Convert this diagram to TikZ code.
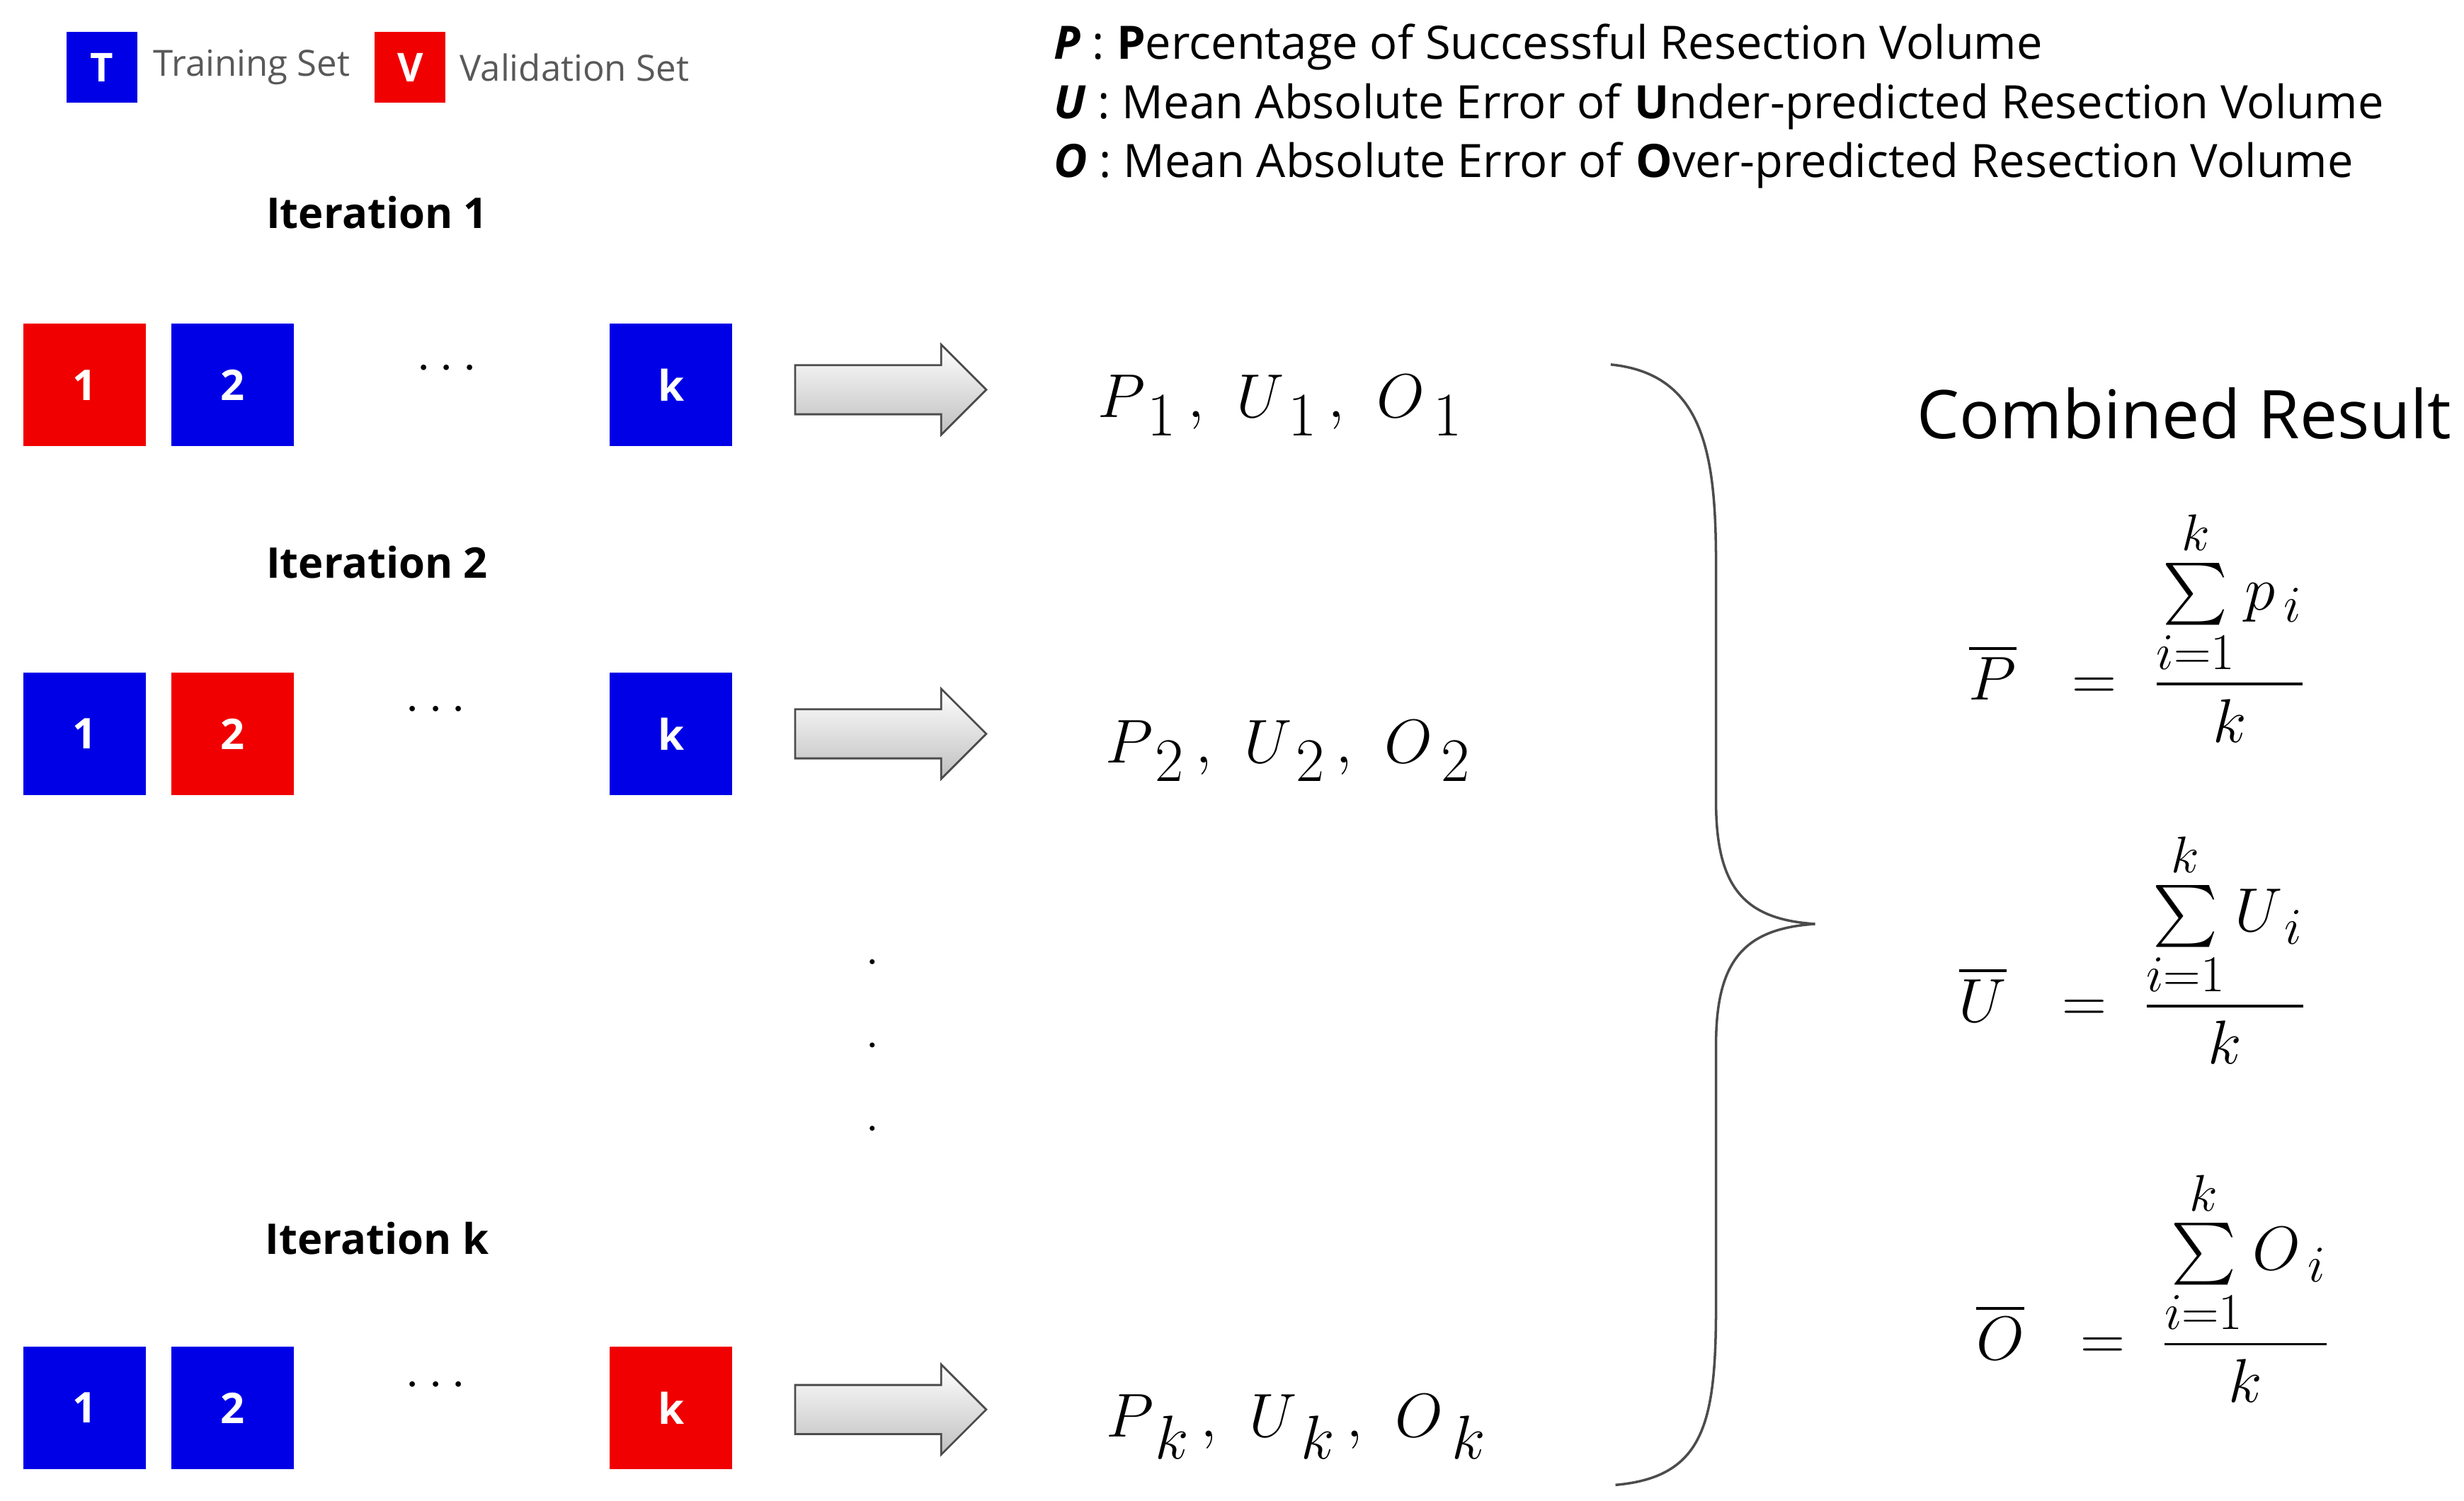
\documentclass[tikz,border=0pt]{standalone}
\usepackage{fontspec}
\setmainfont{Open Sans}
\usepackage{amsmath}
\usetikzlibrary{shapes.arrows}
\begin{document}
\begin{tikzpicture}[x=0.0222cm,y=-0.0222cm,
  sq/.style={minimum size=1.73cm,inner sep=0,font=\fontsize{17}{17}\selectfont\bfseries,text=white},
  tr/.style={sq,fill={rgb,255:red,0;green,0;blue,230}},
  va/.style={sq,fill={rgb,255:red,240;green,0;blue,0}},
  lg/.style={minimum size=1.0cm,inner sep=0,font=\fontsize{16}{16}\selectfont\bfseries,text=white},
  it/.style={font=\fontsize{17}{17}\selectfont\bfseries},
  arr/.style={single arrow,draw=black!70,line width=0.8pt,inner sep=0.333cm,single arrow head extend=0.29cm,minimum height=2.7cm,top color=white,bottom color=black!25,shading angle=0},
  res/.style={font=\fontsize{34}{34}\selectfont},
  df/.style={font=\fontsize{18.5}{18.5}\selectfont,anchor=west},
  fr/.style={font=\fontsize{30}{30}\selectfont}]
\useasboundingbox (0,0) rectangle (1568,955);
% legend
\node[lg,fill={rgb,255:red,0;green,0;blue,230}] (lt) at (65,43) {T};
\node[anchor=west,text=black!65,font=\fontsize{14.5}{14.5}\selectfont] (ltt) at (92,43) {Training Set};
\node[lg,fill={rgb,255:red,240;green,0;blue,0}] (lv) at (261,43) {V};
\node[anchor=west,text=black!65,font=\fontsize{14.5}{14.5}\selectfont] (lvt) at (287,43) {Validation Set};
% definitions
\node[df] (d1) at (665,30) {\textbf{\textit{P}} : \textbf{P}ercentage of Successful Resection Volume};
\node[df] (d2) at (665,68) {\textbf{\textit{U}} : Mean Absolute Error of \textbf{U}nder-predicted Resection Volume};
\node[df] (d3) at (665,105) {\textbf{\textit{O}} : Mean Absolute Error of \textbf{O}ver-predicted Resection Volume};
% iterations
\node[it] (i1) at (240,135) {Iteration 1};
\node[it] (i2) at (240,358) {Iteration 2};
\node[it] (ik) at (240,788) {Iteration k};
% row 1
\node[va] (a1) at (54,245) {1};
\node[tr] (a2) at (148,245) {2};
\node[font=\fontsize{20}{20}\selectfont] (ad) at (287,235) {$\cdots$};
\node[tr] (ak) at (427,245) {k};
\node[arr] (r1) at (559,248) {};
\node[res] (m1) at (815,258) {$P_{\,1}\,,\ U_{\,1}\,,\ O_{\,1}$};
% row 2
\node[tr] (b1) at (54,467) {1};
\node[va] (b2) at (148,467) {2};
\node[font=\fontsize{20}{20}\selectfont] (bd) at (280,452) {$\cdots$};
\node[tr] (bk) at (427,467) {k};
\node[arr] (r2) at (559,467) {};
\node[res] (m2) at (820,478) {$P_{\,2}\,,\ U_{\,2}\,,\ O_{\,2}$};
% row k
\node[tr] (c1) at (54,896) {1};
\node[tr] (c2) at (148,896) {2};
\node[font=\fontsize{20}{20}\selectfont] (cd) at (280,882) {$\cdots$};
\node[va] (ck) at (427,896) {k};
\node[arr] (r3) at (559,897) {};
\node[res] (m3) at (825,908) {$P_{\,k}\,,\ U_{\,k}\,,\ O_{\,k}$};
% vertical dots
\foreach \yy/\nn in {612/v1,665/v2,718/v3} \fill (555,\yy) circle (1.6);
% brace
\draw[line width=1pt,black!70] (1025,232) .. controls (1085,238) and (1092,290) .. (1092,360)
  -- (1092,510) .. controls (1092,565) and (1110,585) .. (1155,588)
  .. controls (1110,591) and (1092,611) .. (1092,665) -- (1092,830)
  .. controls (1092,905) and (1085,940) .. (1028,945);
% combined
\node[font=\fontsize{27}{27}\selectfont] (cr) at (1390,263) {Combined Result};
\node[fr] (fp) at (1360,398) {$\overline{P}\ \ =\ \dfrac{\sum\limits_{i=1}^{k} p_{\,i}}{k}$};
\node[fr] (fu) at (1357,603) {$\overline{U}\ \ =\ \dfrac{\sum\limits_{i=1}^{k} U_{\,i}}{k}$};
\node[fr] (fo) at (1370,818) {$\overline{O}\ \ =\ \dfrac{\sum\limits_{i=1}^{k} O_{\,i}}{k}$};
\end{tikzpicture}
\end{document}
